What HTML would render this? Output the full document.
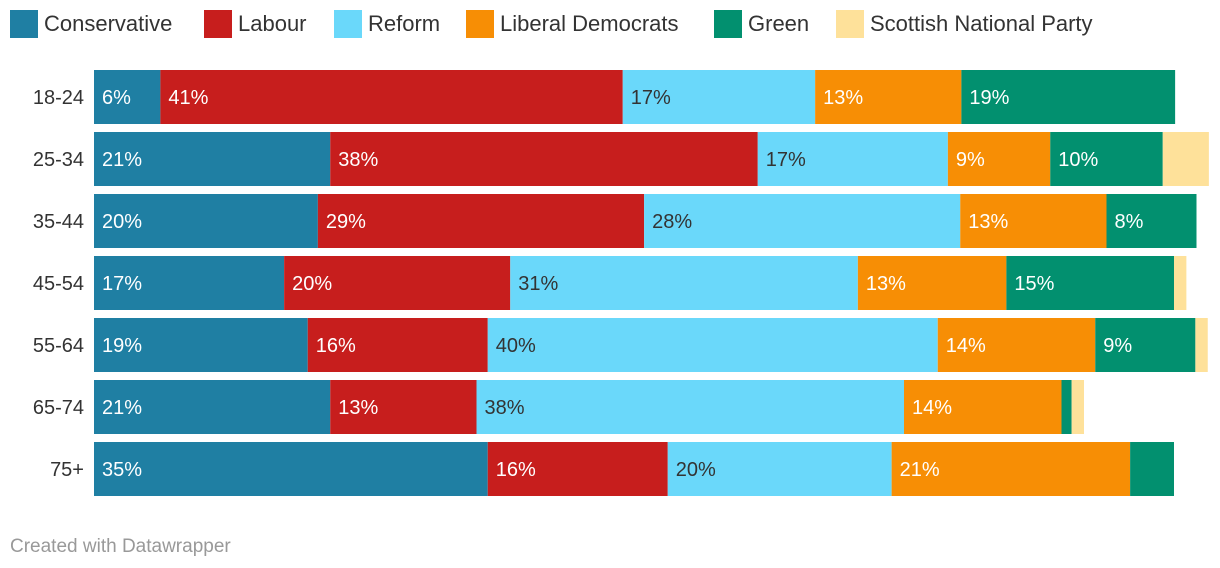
<!DOCTYPE html>
<html><head><meta charset="utf-8"><style>
body{margin:0;background:#fff;font-family:"Liberation Sans",sans-serif;}
#wrap{position:relative;width:1220px;height:568px;overflow:hidden;}
.leg{position:absolute;top:10px;display:flex;align-items:center;font-size:22px;color:#333;}
.leg span.sw{display:inline-block;width:28px;height:28px;margin-right:6px;}
</style></head><body>
<div id="wrap">
<div id="legend"></div>
<svg id="svg" width="1220" height="568" style="position:absolute;left:0;top:0"></svg>
<div style="position:absolute;left:10px;top:536px;font-size:19px;color:#999">Created with Datawrapper</div>
</div>
<script>
const ageGroups=["18-24","25-34","35-44","45-54","55-64","65-74","75+"];
const parties=["Conservative","Labour","Reform","Liberal Democrats","Green","Scottish National Party"];
const colors=["#1f7fa3","#c71e1d","#6ad8fa","#f78e05","#02906f","#fee19a"];
const labelColors=["#fff","#fff","#333","#fff","#fff","#333"];
const conservative=[5.9,21.0,19.9,16.9,19.0,21.0,35.0];
const labour=[41.1,38.0,29.0,20.1,16.0,13.0,16.0];
const reform=[17.1,16.9,28.1,30.9,40.0,38.0,19.9];
const libdem=[13.0,9.1,13.0,13.2,14.0,14.0,21.2];
const green=[19.0,10.0,8.0,14.9,8.9,0.9,3.9];
const snp=[0,4.1,0,1.1,1.1,1.1,0];
const series=[conservative,labour,reform,libdem,green,snp];
const legendX=[10,204,334,466,714,836];
const x0=94,pxPer=11.25,rowTop=70,rowPitch=62,barH=54;
const xs=v=>v*pxPer;
const ys=i=>rowTop+i*rowPitch;
const NS="http://www.w3.org/2000/svg";
const svg=document.getElementById('svg');
const leg=document.getElementById('legend');
parties.forEach((p,k)=>{
  const d=document.createElement('div');d.className='leg';d.style.left=legendX[k]+'px';
  
  
  d.innerHTML='<span class="sw" style="background:'+colors[k]+'"></span>'+p;
  leg.appendChild(d);
});
ageGroups.forEach((g,i)=>{
  const t=document.createElementNS(NS,'text');
  t.setAttribute('x',84);t.setAttribute('y',ys(i)+barH/2+7);t.setAttribute('text-anchor','end');
  t.setAttribute('font-size','20');t.setAttribute('fill','#333');t.textContent=g;
  
  
  svg.appendChild(t);
  let x=x0;
  series.forEach((s,k)=>{
    const v=s[i];if(v<=0)return;
    const r=document.createElementNS(NS,'rect');
    r.setAttribute('x',x);r.setAttribute('y',ys(i));r.setAttribute('width',xs(v));r.setAttribute('height',barH);
    r.setAttribute('fill',colors[k]);
    
    
    svg.appendChild(r);
    if(v>=5){
      const l=document.createElementNS(NS,'text');
      l.setAttribute('x',x+8);l.setAttribute('y',ys(i)+barH/2+7);l.setAttribute('font-size','20');
      l.setAttribute('fill',labelColors[k]);l.textContent=Math.round(v)+'%';
      
      
      svg.appendChild(l);
    }
    x+=xs(v);
  });
});
</script>
</body></html>
